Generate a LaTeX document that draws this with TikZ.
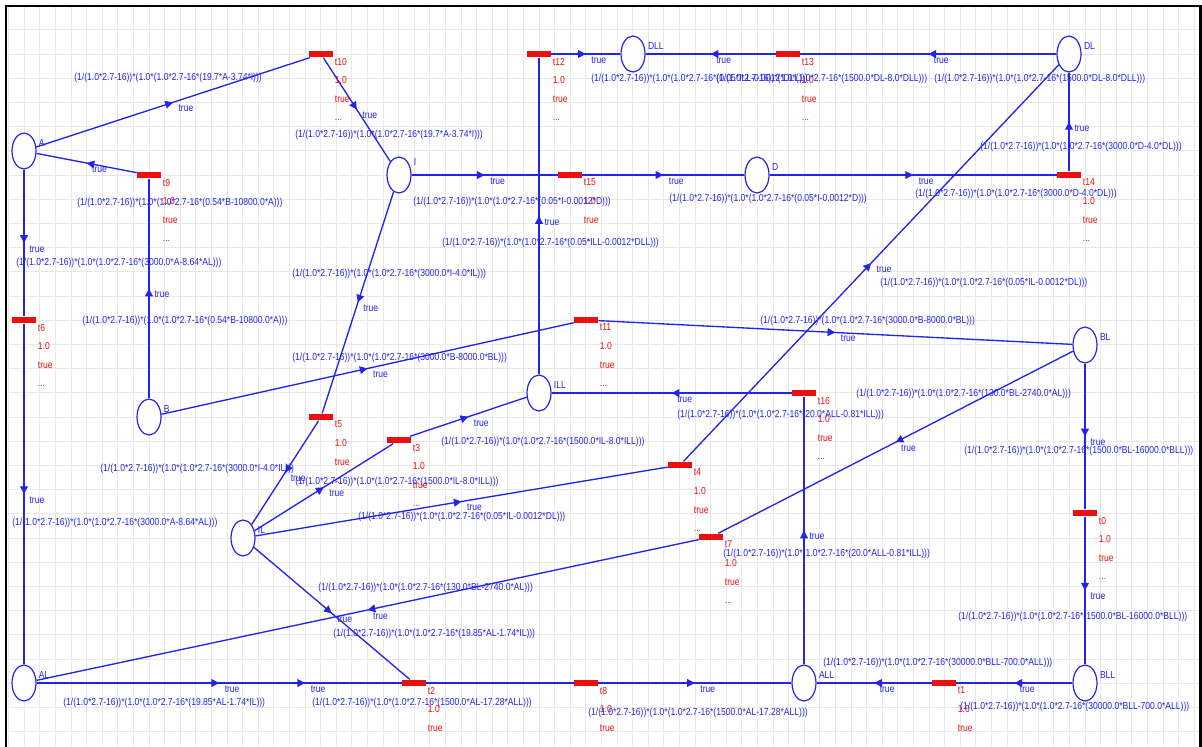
\documentclass[tikz,border=0pt]{standalone}
\usepackage{fontspec}
\setmainfont{Liberation Sans}[FakeStretch=0.84]
\usetikzlibrary{arrows.meta, shapes.geometric, decorations.markings, backgrounds}
\definecolor{pnblue}{RGB}{35,35,235}
\definecolor{pnred}{RGB}{235,15,15}
\definecolor{pngrid}{RGB}{232,232,232}
\newcommand{\pnrate}[1]{(1/(1.0*2.7-16))*(1.0*(1.0*2.7-16*(#1)))}

\begin{document}
\begin{tikzpicture}[
    x=0.025cm, y=-0.025cm,
    font=\fontsize{7.25}{13.2}\selectfont,
    pnplace/.style={draw=pnblue, line width=0.85pt, fill=white, ellipse, minimum width=0.6cm, minimum height=0.9cm, inner sep=0},
    pntrans/.style={fill=pnred, minimum width=0.6cm, minimum height=0.17cm, inner sep=0},
    pnarc/.style={pnblue, line width=0.95pt, postaction={decorate},
        decoration={markings, mark=at position 0.5 with {\arrow{Triangle[length=5.5pt, width=5.5pt]}}}},
    truelbl/.style={pos=0.5, anchor=west, xshift=3.5pt, yshift=-4.3pt, text=pnblue, inner sep=0},
    plabel/.style={anchor=west, xshift=1.5pt, yshift=5.7pt, text=pnblue, inner sep=0},
    expr/.style={anchor=west, text=pnblue, inner sep=0},
    tinfo/.style={anchor=north west, xshift=1pt, text=pnred, align=left, inner sep=0},
    gridline/.style={pngrid, line width=0.6pt}
]
  \useasboundingbox (0,0) rectangle (1202,746);
  \clip (0,0) rectangle (1202,746);

  % places
  \node[pnplace, label={[plabel]east:A}] (pA) at (24,151) {};
  \node[pnplace, label={[plabel, yshift=3.5pt]east:I}] (pI) at (399,175) {};
  \node[pnplace, label={[plabel]east:DLL}] (pDLL) at (633,54) {};
  \node[pnplace, label={[plabel]east:DL}] (pDL) at (1069,54) {};
  \node[pnplace, label={[plabel]east:D}] (pD) at (757,175) {};
  \node[pnplace, label={[plabel]east:B}] (pB) at (149,417) {};
  \node[pnplace, label={[plabel]east:ILL}] (pILL) at (539,393) {};
  \node[pnplace, label={[plabel]east:BL}] (pBL) at (1085,345) {};
  \node[pnplace, label={[plabel]east:IL}] (pIL) at (243,538) {};
  \node[pnplace, label={[plabel]east:AL}] (pAL) at (24,683) {};
  \node[pnplace, label={[plabel]east:ALL}] (pALL) at (804,683) {};
  \node[pnplace, label={[plabel]east:BLL}] (pBLL) at (1085,683) {};

  % transitions
  \node[pntrans] (t0) at (1085,513) {};
  \node[pntrans] (t1) at (944,683) {};
  \node[pntrans] (t2) at (414,683) {};
  \node[pntrans] (t3) at (399,440) {};
  \node[pntrans] (t4) at (680,465) {};
  \node[pntrans] (t5) at (321,417) {};
  \node[pntrans] (t6) at (24,320) {};
  \node[pntrans] (t7) at (711,537) {};
  \node[pntrans] (t8) at (586,683) {};
  \node[pntrans] (t9) at (149,175) {};
  \node[pntrans] (t10) at (321,54) {};
  \node[pntrans] (t11) at (586,320) {};
  \node[pntrans] (t12) at (539,54) {};
  \node[pntrans] (t13) at (788,54) {};
  \node[pntrans] (t14) at (1069,175) {};
  \node[pntrans] (t15) at (570,175) {};
  \node[pntrans] (t16) at (804,393) {};

  \node[tinfo] (i0) at (t0.south east) {t0\\1.0\\true\\...};
  \node[tinfo] (i1) at (t1.south east) {t1\\1.0\\true};
  \node[tinfo] (i2) at (t2.south east) {t2\\1.0\\true};
  \node[tinfo] (i3) at (t3.south east) {t3\\1.0\\true\\...};
  \node[tinfo] (i4) at (t4.south east) {t4\\1.0\\true\\...};
  \node[tinfo] (i5) at (t5.south east) {t5\\1.0\\true\\...};
  \node[tinfo] (i6) at (t6.south east) {t6\\1.0\\true\\...};
  \node[tinfo] (i7) at (t7.south east) {t7\\1.0\\true\\...};
  \node[tinfo] (i8) at (t8.south east) {t8\\1.0\\true};
  \node[tinfo] (i9) at (t9.south east) {t9\\1.0\\true\\...};
  \node[tinfo] (i10) at (t10.south east) {t10\\1.0\\true\\...};
  \node[tinfo] (i11) at (t11.south east) {t11\\1.0\\true\\...};
  \node[tinfo] (i12) at (t12.south east) {t12\\1.0\\true\\...};
  \node[tinfo] (i13) at (t13.south east) {t13\\1.0\\true\\...};
  \node[tinfo] (i14) at (t14.south east) {t14\\1.0\\true\\...};
  \node[tinfo] (i15) at (t15.south east) {t15\\1.0\\true\\...};
  \node[tinfo] (i16) at (t16.south east) {t16\\1.0\\true\\...};

  \begin{scope}[on background layer]
    % grid
    \foreach \i in {0,...,76}
      \draw[gridline] ({8.7+15.6*\i},6) -- ({8.7+15.6*\i},746);
    \foreach \j in {0,...,30}
      \draw[gridline] (6,{5.6+24.2*\j}) -- (1200,{5.6+24.2*\j});

    % arcs
    \draw[pnarc] (pA) -- node[truelbl]{true} (t10);
    \draw[pnarc] (t10) -- node[truelbl]{true} (pI);
    \draw[pnarc] (t9) -- node[truelbl]{true} (pA);
    \draw[pnarc] (pB) -- node[truelbl]{true} (t9);
    \draw[pnarc] (pA) -- node[truelbl]{true} (t6);
    \draw[pnarc] (t6) -- node[truelbl]{true} (pAL);
    \draw[pnarc] (pI) -- node[truelbl]{true} (t5);
    \draw[pnarc] (t5) -- node[truelbl]{true} (pIL);
    \draw[pnarc] (pIL) -- node[truelbl]{true} (t3);
    \draw[pnarc] (t3) -- node[truelbl]{true} (pILL);
    \draw[pnarc] (pIL) -- node[truelbl]{true} (t4);
    \draw[pnarc] (t4) -- node[truelbl]{true} (pDL);
    \draw[pnarc] (pIL) -- node[truelbl]{true} (t2);
    \draw[pnarc] (pAL) -- node[truelbl]{true} (t2);
    \draw[pnarc] (pAL) -- node[truelbl]{true} (t8);
    \draw[pnarc] (t8) -- node[truelbl]{true} (pALL);
    \draw[pnarc] (pI) -- node[truelbl]{true} (t15);
    \draw[pnarc] (t15) -- node[truelbl]{true} (pD);
    \draw[pnarc] (pD) -- node[truelbl]{true} (t14);
    \draw[pnarc] (t14) -- node[truelbl]{true} (pDL);
    \draw[pnarc] (pDL) -- node[truelbl]{true} (t13);
    \draw[pnarc] (t13) -- node[truelbl]{true} (pDLL);
    \draw[pnarc] (t12) -- node[truelbl]{true} (pDLL);
    \draw[pnarc] (pILL) -- node[truelbl]{true} (t12);
    \draw[pnarc] (pB) -- node[truelbl]{true} (t11);
    \draw[pnarc] (t11) -- node[truelbl]{true} (pBL);
    \draw[pnarc] (pBL) -- node[truelbl]{true} (t7);
    \draw[pnarc] (t7) -- node[truelbl]{true} (pAL);
    \draw[pnarc] (pBL) -- node[truelbl]{true} (t0);
    \draw[pnarc] (t0) -- node[truelbl]{true} (pBLL);
    \draw[pnarc] (pBLL) -- node[truelbl]{true} (t1);
    \draw[pnarc] (t1) -- node[truelbl]{true} (pALL);
    \draw[pnarc] (pALL) -- node[truelbl]{true} (t16);
    \draw[pnarc] (t16) -- node[truelbl]{true} (pILL);
  \end{scope}

  % arc weights
  \node[expr] (w1) at (74,78) {\pnrate{19.7*A-3.74*I}};
  \node[expr] (w2) at (295,135) {\pnrate{19.7*A-3.74*I}};
  \node[expr] (w3) at (77,203) {\pnrate{0.54*B-10800.0*A}};
  \node[expr] (w4) at (82,321) {\pnrate{0.54*B-10800.0*A}};
  \node[expr] (w5) at (16,263) {\pnrate{3000.0*A-8.64*AL}};
  \node[expr] (w6) at (12,523) {\pnrate{3000.0*A-8.64*AL}};
  \node[expr] (w7) at (292,274) {\pnrate{3000.0*I-4.0*IL}};
  \node[expr] (w8) at (100,469) {\pnrate{3000.0*I-4.0*IL}};
  \node[expr] (w9) at (295,482) {\pnrate{1500.0*IL-8.0*ILL}};
  \node[expr] (w10) at (441,442) {\pnrate{1500.0*IL-8.0*ILL}};
  \node[expr] (w11) at (358,517) {\pnrate{0.05*IL-0.0012*DL}};
  \node[expr] (w12) at (880,283) {\pnrate{0.05*IL-0.0012*DL}};
  \node[expr] (w13) at (333,634) {\pnrate{19.85*AL-1.74*IL}};
  \node[expr] (w14) at (63,703) {\pnrate{19.85*AL-1.74*IL}};
  \node[expr] (w15) at (312,703) {\pnrate{1500.0*AL-17.28*ALL}};
  \node[expr] (w16) at (588,713) {\pnrate{1500.0*AL-17.28*ALL}};
  \node[expr] (w17) at (413,202) {\pnrate{0.05*I-0.0012*D}};
  \node[expr] (w18) at (669,199) {\pnrate{0.05*I-0.0012*D}};
  \node[expr] (w19) at (915,194) {\pnrate{3000.0*D-4.0*DL}};
  \node[expr] (w20) at (980,147) {\pnrate{3000.0*D-4.0*DL}};
  \node[expr] (w21) at (934,79) {\pnrate{1500.0*DL-8.0*DLL}};
  \node[expr] (w22) at (716,79) {\pnrate{1500.0*DL-8.0*DLL}};
  \node[expr] (w23) at (591,79) {\pnrate{0.05*ILL-0.0012*DLL}};
  \node[expr] (w24) at (442,243) {\pnrate{0.05*ILL-0.0012*DLL}};
  \node[expr] (w25) at (292,358) {\pnrate{3000.0*B-8000.0*BL}};
  \node[expr] (w26) at (760,321) {\pnrate{3000.0*B-8000.0*BL}};
  \node[expr] (w27) at (856,394) {\pnrate{130.0*BL-2740.0*AL}};
  \node[expr] (w28) at (318,588) {\pnrate{130.0*BL-2740.0*AL}};
  \node[expr] (w29) at (964,451) {\pnrate{1500.0*BL-16000.0*BLL}};
  \node[expr] (w30) at (958,617) {\pnrate{1500.0*BL-16000.0*BLL}};
  \node[expr] (w31) at (960,707) {\pnrate{30000.0*BLL-700.0*ALL}};
  \node[expr] (w32) at (823,663) {\pnrate{30000.0*BLL-700.0*ALL}};
  \node[expr] (w33) at (723,554) {\pnrate{20.0*ALL-0.81*ILL}};
  \node[expr] (w34) at (677,415) {\pnrate{20.0*ALL-0.81*ILL}};

  % frame
  \draw[line width=1.6pt] (6.2,760) -- (6.2,6.2) -- (1200.5,6.2) -- (1200.5,760);
\end{tikzpicture}
\end{document}
